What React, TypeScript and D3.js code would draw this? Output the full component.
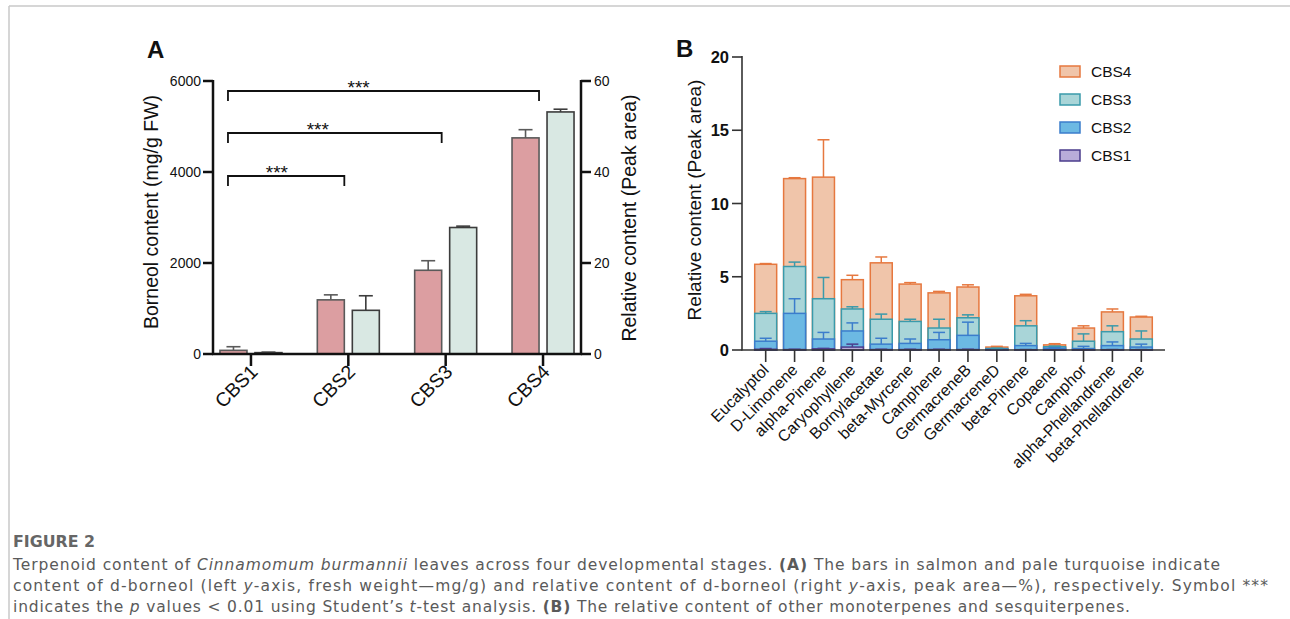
import React from "react";
import * as d3 from "d3";

// ---------- Panel A data ----------
const stagesA = ["CBS1", "CBS2", "CBS3", "CBS4"];
const borneolMg = [80, 1190, 1840, 4750];
const borneolMgErr = [80, 110, 210, 180];
const borneolPct = [0.3, 9.6, 27.8, 53.2];
const borneolPctErr = [0.1, 3.2, 0.3, 0.6];
const leftTicks = [0, 2000, 4000, 6000];
const rightTicks = [0, 20, 40, 60];
const sigPairs = [
  { to: "CBS2", level: 176, label: "***" },
  { to: "CBS3", level: 133, label: "***" },
  { to: "CBS4", level: 91, label: "***" },
];

// ---------- Panel B data ----------
const compounds = [
  "Eucalyptol", "D-Limonene", "alpha-Pinene", "Caryophyllene", "Bornylacetate",
  "beta-Myrcene", "Camphene", "GermacreneB", "GermacreneD", "beta-Pinene",
  "Copaene", "Camphor", "alpha-Phellandrene", "beta-Phellandrene",
];
const seriesB = ["CBS1", "CBS2", "CBS3", "CBS4"];
const cbs1 = [0.05, 0.03, 0.08, 0.2, 0.03, 0.03, 0.03, 0.03, 0.01, 0.02, 0.01, 0.01, 0.02, 0.02];
const cbs2 = [0.55, 2.47, 0.67, 1.1, 0.37, 0.42, 0.67, 0.97, 0.04, 0.28, 0.11, 0.09, 0.28, 0.18];
const cbs3 = [1.9, 3.2, 2.75, 1.5, 1.7, 1.5, 0.8, 1.2, 0.05, 1.35, 0.1, 0.5, 0.95, 0.55];
const cbs4 = [3.35, 6.0, 8.3, 2.0, 3.85, 2.55, 2.4, 2.1, 0.1, 2.05, 0.13, 0.9, 1.35, 1.5];
const err1 = [0.05, 0.02, 0.03, 0.2, 0.02, 0.02, 0.02, 0.02, 0.01, 0.01, 0.01, 0.01, 0.01, 0.01];
const err2 = [0.2, 1.0, 0.45, 0.55, 0.4, 0.3, 0.5, 0.9, 0.02, 0.15, 0.05, 0.15, 0.25, 0.2];
const err3 = [0.12, 0.3, 1.45, 0.15, 0.35, 0.15, 0.6, 0.2, 0.03, 0.35, 0.05, 0.5, 0.4, 0.55];
const err4 = [0.05, 0.06, 2.55, 0.3, 0.4, 0.1, 0.1, 0.15, 0.05, 0.1, 0.08, 0.15, 0.2, 0.05];
const yTicksB = [0, 5, 10, 15, 20];

const fillB: Record<string, string> = { CBS1: "#b9acd9", CBS2: "#6cb9e3", CBS3: "#a9d5d8", CBS4: "#f0c5aa" };
const strokeB: Record<string, string> = { CBS1: "#4b3d8c", CBS2: "#3b7dcc", CBS3: "#3a9aab", CBS4: "#e6783f" };

export default function App() {
  // Panel A scales
  const xA = d3.scalePoint<string>().domain(stagesA).range([213, 581]).padding(0.39);
  const yL = d3.scaleLinear().domain([0, 6000]).range([354, 81]);
  const yR = d3.scaleLinear().domain([0, 60]).range([354, 81]);
  const barW = 27;
  const off = 17.5;

  // Panel B scales
  const xB = d3.scaleBand<string>().domain(compounds).range([742, 1165]).paddingInner(0.24).paddingOuter(0.44);
  const yB = d3.scaleLinear().domain([0, 20]).range([350, 57]);
  const rows = compounds.map((c, i) => ({ name: c, CBS1: cbs1[i], CBS2: cbs2[i], CBS3: cbs3[i], CBS4: cbs4[i] }));
  const errs: Record<string, number[]> = { CBS1: err1, CBS2: err2, CBS3: err3, CBS4: err4 };
  const stacked = d3.stack<any>().keys(seriesB)(rows);
  const bw = xB.bandwidth();

  const arial = "Arial, 'Liberation Sans', Helvetica, sans-serif";
  const capFont = "'DejaVu Sans', 'Open Sans', sans-serif";

  return (
    <svg width={1290} height={619} style={{ position: "absolute", left: 0, top: 0, background: "#fff" }}>
      {/* frame */}
      <line x1={9} y1={6} x2={1290} y2={6} stroke="#c9c9c9" strokeWidth={1.5} />
      <line x1={9} y1={6} x2={9} y2={619} stroke="#c9c9c9" strokeWidth={1.5} />

      {/* ---------------- Panel A ---------------- */}
      <g fontFamily={arial}>
        <text x={147} y={58} fontSize={24} fontWeight="bold" fill="#111">A</text>
        {stagesA.map((s, i) => {
          const cx = xA(s)!;
          const xs = cx - off - barW / 2;
          const xg = cx + off - barW / 2;
          return (
            <g key={s}>
              <rect x={xs} y={yL(borneolMg[i])} width={barW} height={yL(0) - yL(borneolMg[i])} fill="#dc9ea1" stroke="#5a5a5a" strokeWidth={1.6} />
              <line x1={cx - off} x2={cx - off} y1={yL(borneolMg[i])} y2={yL(borneolMg[i] + borneolMgErr[i])} stroke="#5a5a5a" strokeWidth={1.6} />
              <line x1={cx - off - 7} x2={cx - off + 7} y1={yL(borneolMg[i] + borneolMgErr[i])} y2={yL(borneolMg[i] + borneolMgErr[i])} stroke="#5a5a5a" strokeWidth={1.6} />
              <rect x={xg} y={yR(borneolPct[i])} width={barW} height={yR(0) - yR(borneolPct[i])} fill="#d9e8e3" stroke="#3c3c3c" strokeWidth={1.6} />
              <line x1={cx + off} x2={cx + off} y1={yR(borneolPct[i])} y2={yR(borneolPct[i] + borneolPctErr[i])} stroke="#3c3c3c" strokeWidth={1.6} />
              <line x1={cx + off - 7} x2={cx + off + 7} y1={yR(borneolPct[i] + borneolPctErr[i])} y2={yR(borneolPct[i] + borneolPctErr[i])} stroke="#3c3c3c" strokeWidth={1.6} />
              <line x1={cx} x2={cx} y1={354} y2={366} stroke="#111" strokeWidth={2.5} />
              <text transform={`translate(${cx + 8},${373}) rotate(-45)`} textAnchor="end" fontSize={19.5} fill="#111">{s}</text>
            </g>
          );
        })}
        {/* axes */}
        <line x1={213} x2={213} y1={80} y2={355} stroke="#111" strokeWidth={2.5} />
        <line x1={581} x2={581} y1={80} y2={355} stroke="#111" strokeWidth={2.5} />
        <line x1={212} x2={582} y1={354} y2={354} stroke="#111" strokeWidth={2.5} />
        {leftTicks.map((t) => (
          <g key={"l" + t}>
            <line x1={203} x2={213} y1={yL(t)} y2={yL(t)} stroke="#111" strokeWidth={2.5} />
            <text x={201} y={yL(t) + 5} textAnchor="end" fontSize={14} fill="#111">{t}</text>
          </g>
        ))}
        {rightTicks.map((t) => (
          <g key={"r" + t}>
            <line x1={581} x2={591} y1={yR(t)} y2={yR(t)} stroke="#111" strokeWidth={2.5} />
            <text x={594} y={yR(t) + 5} textAnchor="start" fontSize={14} fill="#111">{t}</text>
          </g>
        ))}
        <text transform="translate(158,212) rotate(-90)" textAnchor="middle" fontSize={19.5} fill="#111">Borneol content (mg/g FW)</text>
        <text transform="translate(636,218) rotate(-90)" textAnchor="middle" fontSize={19.5} fill="#111">Relative content (Peak area)</text>
        {/* significance brackets */}
        {sigPairs.map((p) => {
          const x1 = xA("CBS1")! - 23;
          const x2 = xA(p.to)! - 4;
          const mid = (x1 + x2) / 2;
          return (
            <g key={p.to}>
              <path d={`M${x1},${p.level + 10} V${p.level} H${x2} V${p.level + 10}`} fill="none" stroke="#111" strokeWidth={1.8} />
              <text x={mid - (x2 - x1) * 0.08} y={p.level + 3} textAnchor="middle" fontSize={19} fill="#111">{p.label}</text>
            </g>
          );
        })}
      </g>

      {/* ---------------- Panel B ---------------- */}
      <g fontFamily={arial}>
        <text x={676} y={57} fontSize={24} fontWeight="bold" fill="#111">B</text>
        {stacked.slice().reverse().map((layer) => {
          const key = layer.key;
          return (
            <g key={key}>
              {layer.map((d: any, i: number) => (
                <rect key={i} x={xB(compounds[i])!} y={yB(d[1])} width={bw} height={yB(0) - yB(d[1])} fill={fillB[key]} stroke={strokeB[key]} strokeWidth={1.5} />
              ))}
            </g>
          );
        })}
        {stacked.map((layer) => {
          const key = layer.key;
          return (
            <g key={"e" + key}>
              {layer.map((d: any, i: number) => {
                const cx = xB(compounds[i])! + bw / 2;
                const top = yB(d[1] + errs[key][i]);
                return (
                  <g key={i}>
                    <line x1={cx} x2={cx} y1={yB(d[1])} y2={top} stroke={strokeB[key]} strokeWidth={1.5} />
                    <line x1={cx - 6} x2={cx + 6} y1={top} y2={top} stroke={strokeB[key]} strokeWidth={1.5} />
                  </g>
                );
              })}
            </g>
          );
        })}
        <line x1={742} x2={742} y1={56} y2={350.5} stroke="#333" strokeWidth={1.6} />
        <line x1={741.5} x2={1165} y1={350} y2={350} stroke="#333" strokeWidth={1.6} />
        {yTicksB.map((t) => (
          <g key={"b" + t}>
            <line x1={732} x2={742} y1={yB(t)} y2={yB(t)} stroke="#333" strokeWidth={1.6} />
            <text x={729} y={yB(t) + 6} textAnchor="end" fontSize={16.5} fontWeight="bold" fill="#111">{t}</text>
          </g>
        ))}
        {compounds.map((c) => {
          const cx = xB(c)! + bw / 2;
          return (
            <g key={"t" + c}>
              <line x1={cx} x2={cx} y1={350} y2={362} stroke="#333" strokeWidth={1.6} />
              <text transform={`translate(${cx + 4},${371}) rotate(-45)`} textAnchor="end" fontSize={16} fill="#111">{c}</text>
            </g>
          );
        })}
        <text transform="translate(701,200) rotate(-90)" textAnchor="middle" fontSize={19} fill="#111">Relative content (Peak area)</text>
        {seriesB.slice().reverse().map((s, i) => (
          <g key={"lg" + s}>
            <rect x={1060} y={66 + i * 28} width={20} height={11} fill={fillB[s]} stroke={strokeB[s]} strokeWidth={1.5} />
            <text x={1091} y={77 + i * 28} fontSize={15.5} fill="#111">{s}</text>
          </g>
        ))}
      </g>

      {/* ---------------- Caption ---------------- */}
      <g fontFamily={capFont} fill="#5a5a5a" fontSize={15.5}>
        <text x={13} y={547} fontWeight="bold" fill="#666" fontSize={16} textLength={82} lengthAdjust="spacingAndGlyphs">FIGURE 2</text>
        <text x={13} y={570} textLength={1207} lengthAdjust="spacing">
          Terpenoid content of <tspan fontStyle="italic">Cinnamomum burmannii</tspan> leaves across four developmental stages. <tspan fontWeight="bold">(A)</tspan> The bars in salmon and pale turquoise indicate
        </text>
        <text x={13} y={591} textLength={1255} lengthAdjust="spacing">
          content of d-borneol (left <tspan fontStyle="italic">y</tspan>-axis, fresh weight—mg/g) and relative content of d-borneol (right <tspan fontStyle="italic">y</tspan>-axis, peak area—%), respectively. Symbol ***
        </text>
        <text x={13} y={612} textLength={1117} lengthAdjust="spacing">
          indicates the <tspan fontStyle="italic">p</tspan> values &lt; 0.01 using Student’s <tspan fontStyle="italic">t</tspan>-test analysis. <tspan fontWeight="bold">(B)</tspan> The relative content of other monoterpenes and sesquiterpenes.
        </text>
      </g>
    </svg>
  );
}
